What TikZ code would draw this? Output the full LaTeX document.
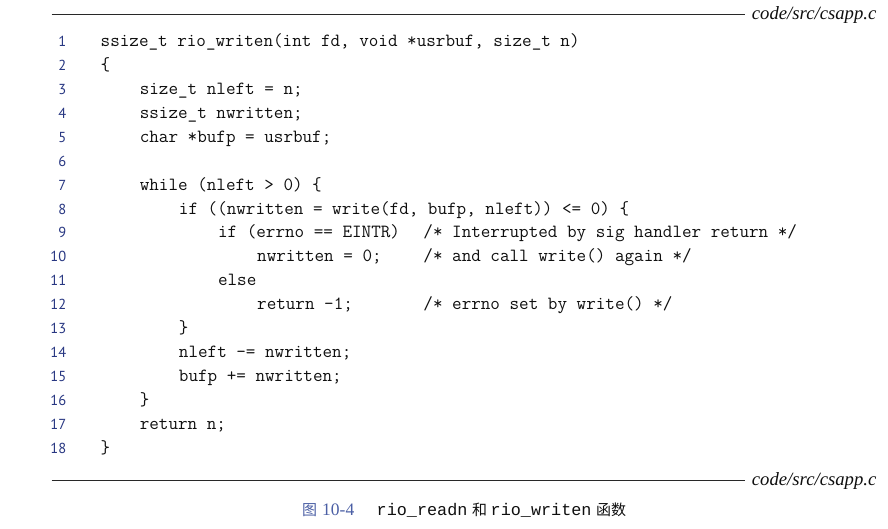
\documentclass[tikz,border=0pt]{standalone}
\usepackage{fontspec}
\newfontfamily\numfont{PT Sans}
\newfontfamily\labelfont{Liberation Serif}
\newfontfamily\capmono{Liberation Mono}
\newfontfamily\cjk{Noto Sans CJK SC}
\definecolor{numblue}{RGB}{40,55,130}
\definecolor{capblue}{RGB}{75,95,165}
\definecolor{codeink}{RGB}{15,15,15}
\definecolor{ruleink}{RGB}{40,40,40}
\newcommand\codeat[4]{\node[codeline] (#1) at ({100.5+#2*9.78},{46.7+(#3-1)*23.9}) {#4};}
\begin{document}
\begin{tikzpicture}[x=1pt,y=-1pt,
  codeline/.style={anchor=base west, inner sep=0pt, text=codeink,
    font=\fontsize{18.6pt}{22pt}\selectfont\ttfamily},
  lnum/.style={anchor=base east, inner sep=0pt, text=numblue,
    font=\numfont\fontsize{14.5pt}{16pt}\selectfont},
  pathlabel/.style={anchor=base west, inner sep=0pt, text=codeink,
    font=\labelfont\fontsize{18.7pt}{20pt}\selectfont\itshape},
  rulestyle/.style={draw=ruleink, line width=1.3pt},
  capcjk/.style={anchor=base west, inner sep=0pt, font=\cjk\fontsize{15pt}{17pt}\selectfont},
  capmonos/.style={anchor=base west, inner sep=0pt, text=codeink, font=\capmono\fontsize{16.8pt}{18pt}\selectfont},
  capnum/.style={anchor=base west, inner sep=0pt, text=capblue, font=\labelfont\fontsize{17.5pt}{19pt}\selectfont}]
\useasboundingbox (0,0) rectangle (888,528);
\fill[white] (0,0) rectangle (888,528);
% rules and path labels
\coordinate (r1a) at (51.7,14.7);
\coordinate (r1b) at (745,14.7);
\draw[rulestyle] (r1a) -- (r1b);
\node[pathlabel] (lab1) at (751.7,19.3) {code/src/csapp.c};
\coordinate (r2a) at (51.7,480.5);
\coordinate (r2b) at (745,480.5);
\draw[rulestyle] (r2a) -- (r2b);
\node[pathlabel] (lab2) at (751.7,485.2) {code/src/csapp.c};
% line numbers
\foreach \i in {1,...,18}
  \node[lnum] (n\i) at (66.5,{46.7+(\i-1)*23.9}) {\i};
% code
\codeat{c1}{0}{1}{ssize\_t rio\_writen(int fd, void *usrbuf, size\_t n)}
\codeat{c2}{0}{2}{\{}
\codeat{c3}{4}{3}{size\_t nleft = n;}
\codeat{c4}{4}{4}{ssize\_t nwritten;}
\codeat{c5}{4}{5}{char *bufp = usrbuf;}
\codeat{c7}{4}{7}{while (nleft > 0) \{}
\codeat{c8}{8}{8}{if ((nwritten = write(fd, bufp, nleft)) <= 0) \{}
\codeat{c9}{12}{9}{if (errno == EINTR)}
\codeat{k9}{33}{9}{/* Interrupted by sig handler return */}
\codeat{c10}{16}{10}{nwritten = 0;}
\codeat{k10}{33}{10}{/* and call write() again */}
\codeat{c11}{12}{11}{else}
\codeat{c12}{16}{12}{return -1;}
\codeat{k12}{33}{12}{/* errno set by write() */}
\codeat{c13}{8}{13}{\}}
\codeat{c14}{8}{14}{nleft -= nwritten;}
\codeat{c15}{8}{15}{bufp += nwritten;}
\codeat{c16}{4}{16}{\}}
\codeat{c17}{4}{17}{return n;}
\codeat{c18}{0}{18}{\}}
% caption
\node[capcjk, text=capblue] (fig) at (302,515.5) {图};
\node[capnum] (fignum) at (322,515.5) {10-4};
\node[capmonos] (f1) at (376.5,515.5) {rio\_readn};
\node[capcjk, text=codeink] (he) at (472,515.5) {和};
\node[capmonos] (f2) at (490.5,515.5) {rio\_writen};
\node[capcjk, text=codeink] (hanshu) at (596,515.5) {函数};
\end{tikzpicture}
\end{document}
